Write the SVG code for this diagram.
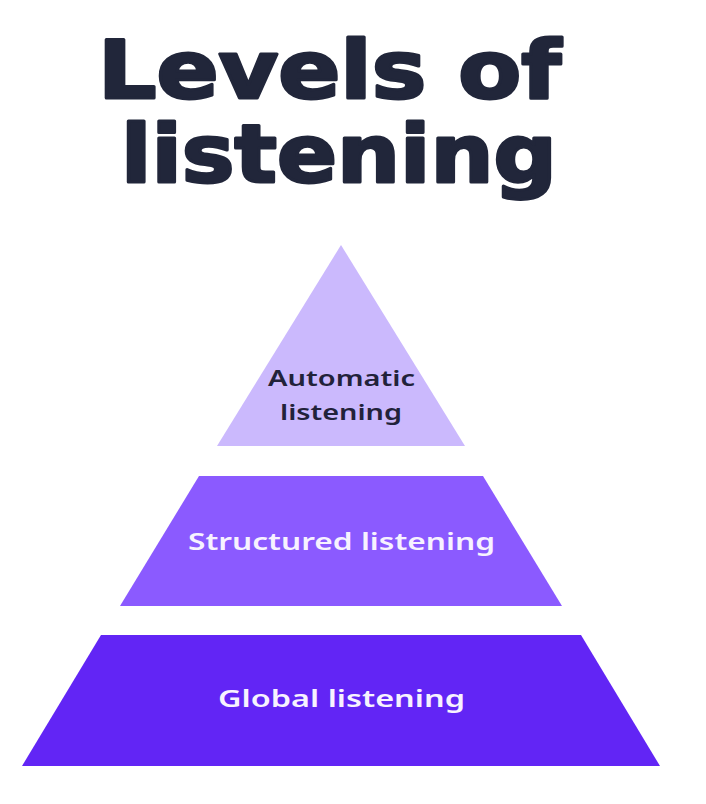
<svg xmlns="http://www.w3.org/2000/svg" width="706" height="804" viewBox="0 0 706 804">
<style>
.title{font-family:"DejaVu Sans","Liberation Sans",sans-serif;font-weight:bold;font-size:80px;fill:#21263a;stroke:#21263a;stroke-width:3;stroke-linejoin:round}
.lbl{font-family:"Noto Sans","Open Sans",sans-serif;font-weight:600;text-anchor:start}
.dark{fill:#22223a}
.light{fill:#f7f2ff}
</style>
<rect width="706" height="804" fill="#ffffff"/>
<g id="title">
<text class="title" x="98" y="98" textLength="463" lengthAdjust="spacingAndGlyphs">Levels of</text>
<text class="title" x="121" y="182" textLength="436" lengthAdjust="spacingAndGlyphs">listening</text>
</g>
<g id="automatic">
<polygon points="341,245 465,446 217,446" fill="#cbb9fd"/>
<text class="lbl dark" x="268" y="386" font-size="21" textLength="147" lengthAdjust="spacingAndGlyphs">Automatic</text>
<text class="lbl dark" x="280" y="420" font-size="21" textLength="122" lengthAdjust="spacingAndGlyphs">listening</text>
</g>
<g id="structured">
<polygon points="199,476 483,476 562,606 120,606" fill="#8b5aff"/>
<text class="lbl light" x="188" y="550" font-size="23" textLength="307" lengthAdjust="spacingAndGlyphs">Structured listening</text>
</g>
<g id="global">
<polygon points="101,635 581,635 660,766 22,766" fill="#6225f5"/>
<text class="lbl light" x="218" y="707" font-size="24" textLength="247" lengthAdjust="spacingAndGlyphs">Global listening</text>
</g>
<g id="connectors"></g>
</svg>
